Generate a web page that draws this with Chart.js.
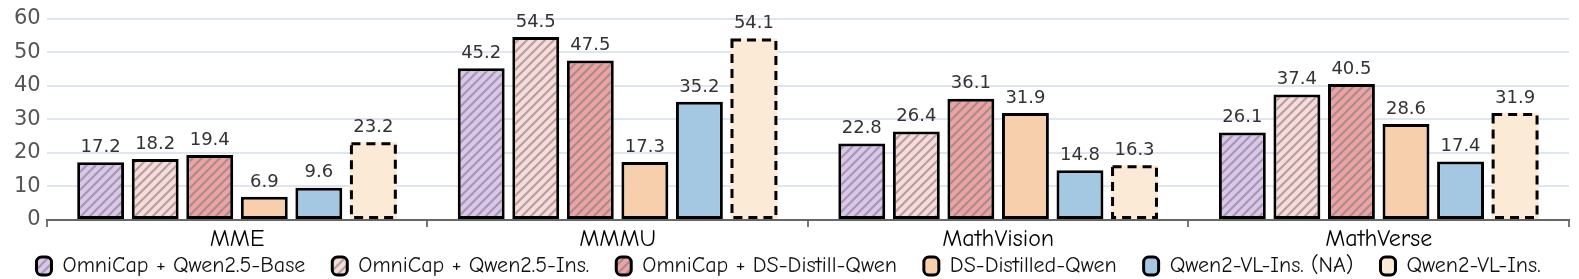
<!DOCTYPE html>
<html>
<head>
<meta charset="utf-8">
<script src="https://cdn.jsdelivr.net/npm/chart.js@4/dist/chart.umd.min.js"></script>
<style>
  html, body { margin: 0; padding: 0; background: #fff; }
  #wrap { width: 1579px; height: 279px; position: relative; }
</style>
</head>
<body>
<div id="wrap"><canvas id="chart"></canvas></div>
<script>
const categories = ['MME', 'MMMU', 'MathVision', 'MathVerse'];
const seriesNames = [
  'OmniCap + Qwen2.5-Base',
  'OmniCap + Qwen2.5-Ins.',
  'OmniCap + DS-Distill-Qwen',
  'DS-Distilled-Qwen',
  'Qwen2-VL-Ins. (NA)',
  'Qwen2-VL-Ins.',
];
const omniBase   = [17.2, 45.2, 22.8, 26.1];
const omniIns    = [18.2, 54.5, 26.4, 37.4];
const omniDs     = [19.4, 47.5, 36.1, 40.5];
const dsDistill  = [6.9, 17.3, 31.9, 28.6];
const qwenVlNa   = [9.6, 35.2, 14.8, 17.4];
const qwenVl     = [23.2, 54.1, 16.3, 31.9];
const yTicks     = [0, 10, 20, 30, 40, 50, 60];

const comic = '"Comic Sans MS", "Comic Neue", "Lato", sans-serif';
const plain = '"DejaVu Sans", Verdana, sans-serif';

// diagonal hatch fill
function hatch(color) {
  const c = document.createElement('canvas');
  c.width = 9; c.height = 9;
  const g = c.getContext('2d');
  g.fillStyle = color;
  g.fillRect(0, 0, 9, 9);
  g.strokeStyle = 'rgba(125,125,125,0.6)';
  g.lineWidth = 2.2;
  g.beginPath();
  g.moveTo(-2, 11); g.lineTo(11, -2);
  g.moveTo(-6.5, 6.5); g.lineTo(6.5, -6.5);
  g.moveTo(2.5, 15.5); g.lineTo(15.5, 2.5);
  g.stroke();
  return g.createPattern(c, 'repeat');
}

// dashed outline for the last series (bars have no borderDash of their own)
const dashedBars = {
  id: 'dashedBars',
  afterDatasetsDraw(chart) {
    const ctx = chart.ctx;
    chart.data.datasets.forEach((ds, i) => {
      if (!ds.dashed) return;
      ctx.save();
      ctx.strokeStyle = '#000';
      ctx.lineWidth = 3;
      ctx.setLineDash([9, 6]);
      chart.getDatasetMeta(i).data.forEach(bar => {
        const w = bar.width;
        ctx.strokeRect(bar.x - w / 2 + 1.5, bar.y + 1.5, w - 3, bar.base - bar.y - 3);
      });
      ctx.restore();
    });
  },
};

const valueLabels = {
  id: 'valueLabels',
  afterDatasetsDraw(chart) {
    const ctx = chart.ctx;
    ctx.save();
    ctx.font = '18px ' + plain;
    ctx.fillStyle = '#333';
    ctx.textAlign = 'center';
    ctx.textBaseline = 'bottom';
    chart.data.datasets.forEach((ds, i) => {
      chart.getDatasetMeta(i).data.forEach((bar, j) => {
        ctx.fillText(ds.data[j].toFixed(1), bar.x, bar.y - 6);
      });
    });
    ctx.restore();
  },
};

const base = { borderColor: '#000', borderWidth: 3, borderSkipped: false };

new Chart(document.getElementById('chart'), {
  type: 'bar',
  data: {
    labels: categories,
    datasets: [
      { ...base, label: seriesNames[0], data: omniBase,  backgroundColor: hatch('#dcc6ee') },
      { ...base, label: seriesNames[1], data: omniIns,   backgroundColor: hatch('#fbdada') },
      { ...base, label: seriesNames[2], data: omniDs,    backgroundColor: hatch('#eda3a3') },
      { ...base, label: seriesNames[3], data: dsDistill, backgroundColor: '#f7cfad' },
      { ...base, label: seriesNames[4], data: qwenVlNa,  backgroundColor: '#a4c8e1' },
      { ...base, label: seriesNames[5], data: qwenVl,    backgroundColor: '#fbead6', borderWidth: 0, dashed: true },
    ],
  },
  options: {
    responsive: true,
    maintainAspectRatio: false,
    animation: false,
    layout: { padding: { left: 8, right: 10, top: 6, bottom: -8 } },
    datasets: { bar: { categoryPercentage: 0.86, barPercentage: 0.86 } },
    plugins: {
      legend: {
        position: 'bottom',
        labels: {
          font: { family: comic, size: 22 },
          color: '#111',
          boxWidth: 15,
          boxHeight: 18,
          padding: 27,
          useBorderRadius: true,
          borderRadius: 5,
          generateLabels(chart) {
            return Chart.defaults.plugins.legend.labels.generateLabels(chart)
              .map(l => ({ ...l, lineDash: [], lineWidth: 3, strokeStyle: '#000' }));
          },
        },
      },
      tooltip: { enabled: false },
    },
    scales: {
      x: {
        grid: { display: true, drawOnChartArea: false, offset: true, tickLength: 7, color: '#777', lineWidth: 2 },
        border: { color: '#666', width: 2 },
        ticks: { font: { family: comic, size: 24 }, color: '#000', padding: -2 },
        afterFit(axis) {
          // let the category names sit in the legend's top padding
          axis.height = 8;
          axis._computeLabelArea = () => undefined;
        },
      },
      y: {
        min: 0, max: 60,
        afterBuildTicks(axis) { axis.ticks = yTicks.map(v => ({ value: v })); },
        grid: { color: '#dfe5f1', lineWidth: 2, drawTicks: false },
        border: { display: false },
        ticks: { font: { family: plain, size: 21 }, color: '#555', padding: 6 },
      },
    },
  },
  plugins: [dashedBars, valueLabels],
});
</script>
</body>
</html>
